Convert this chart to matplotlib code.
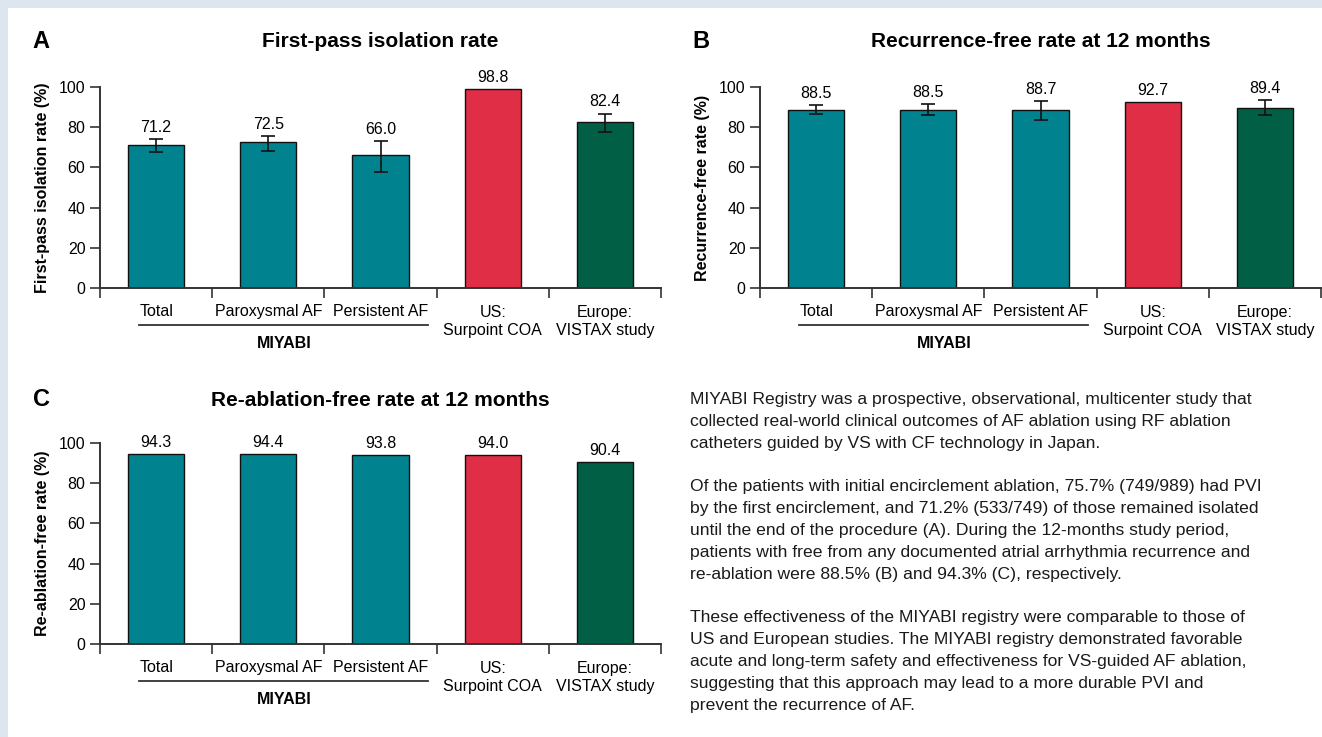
import matplotlib.pyplot as plt
from matplotlib.patches import Rectangle

plt.rcParams['font.family'] = ['Liberation Sans', 'DejaVu Sans']

# ======================== Données ===========================================
categories = ['Total', 'Paroxysmal AF', 'Persistent AF', 'US:\nSurpoint COA', 'Europe:\nVISTAX study']

# A : first-pass isolation
vals_A = [71.2, 72.5, 66.0, 98.8, 82.4]
low_A = [67.9, 68.4, 57.8, None, 77.5]
high_A = [74.0, 75.7, 73.2, None, 86.8]

# B : recurrence-free à 12 mois
vals_B = [88.5, 88.5, 88.7, 92.7, 89.4]
low_B = [86.7, 86.3, 83.8, None, 86.3]
high_B = [90.8, 91.3, 93.2, None, 93.5]

# C : re-ablation-free à 12 mois (pas d'IC)
vals_C = [94.3, 94.4, 93.8, 94.0, 90.4]

yticks = [0, 20, 40, 60, 80, 100]

TEAL = '#00838F'
RED = '#E02E47'
GREEN = '#005F45'
couleurs = [TEAL, TEAL, TEAL, RED, GREEN]

W, H = 1322, 737
fig = plt.figure(figsize=(W / 100, H / 100), dpi=100)
fig.patch.set_facecolor('#DDE6EE')
fig.add_artist(Rectangle((8 / W, 0), 1, 1 - 8 / H, transform=fig.transFigure,
                         facecolor='white', edgecolor='none', zorder=0))


def px_axes(x0, x1, y0, y100):
    # positions en pixels (origine en haut à gauche)
    return fig.add_axes([x0 / W, (H - y0) / H, (x1 - x0) / W, (y0 - y100) / H])


def panel(ax, vals, low, high, titre, ylabel, lettre, lettre_xy, title_pad):
    x = range(len(vals))
    ax.bar(x, vals, width=0.5, color=couleurs, edgecolor='#111111', linewidth=1.0, zorder=2)
    for i, v in enumerate(vals):
        top = v
        if low is not None and low[i] is not None:
            ax.errorbar(i, v, yerr=[[v - low[i]], [high[i] - v]], fmt='none', ecolor='#111111',
                        elinewidth=1.2, capsize=5, capthick=1.2, zorder=3)
            top = high[i]
        ax.annotate(f'{v:.1f}', (i, top), xytext=(0, 3), textcoords='offset points',
                    ha='center', va='bottom', fontsize=11.5)
    ax.set_xlim(-0.5, 4.5)
    ax.set_ylim(0, 100)
    ax.set_yticks(yticks)
    ax.set_xticks([-0.5, 0.5, 1.5, 2.5, 3.5, 4.5])
    ax.set_xticklabels([])
    ax.tick_params(axis='both', direction='out', length=7, width=1.2, color='#333333',
                   labelsize=11.5)
    for s in ['top', 'right']:
        ax.spines[s].set_visible(False)
    for s in ['left', 'bottom']:
        ax.spines[s].set_color('#333333')
        ax.spines[s].set_linewidth(1.4)
    ax.set_ylabel(ylabel, fontsize=11.5, fontweight='bold', labelpad=6)
    ax.set_title(titre, fontsize=15, fontweight='bold', pad=title_pad)

    # étiquettes des catégories
    for i, c in enumerate(categories):
        if '\n' in c:
            ax.text(i, -16.5, c, ha='center', va='center', fontsize=11.5, linespacing=1.25,
                    clip_on=False)
        else:
            ax.text(i, -11.5, c, ha='center', va='center', fontsize=11.5, clip_on=False)
    ax.plot([-0.15, 2.42], [-18.5, -18.5], color='#333333', lw=1.3, clip_on=False)
    ax.text(1.14, -27.5, 'MIYABI', ha='center', va='center', fontsize=11.5,
            fontweight='bold', clip_on=False)
    fig.text(lettre_xy[0] / W, 1 - lettre_xy[1] / H, lettre, fontsize=17, fontweight='bold',
             ha='center', va='center')


axA = px_axes(100, 661, 288, 87)
panel(axA, vals_A, low_A, high_A, 'First-pass isolation rate',
      'First-pass isolation rate (%)', 'A', (41, 41), 29)

axB = px_axes(760, 1321, 288, 87)
panel(axB, vals_B, low_B, high_B, 'Recurrence-free rate at 12 months',
      'Recurrence-free rate (%)', 'B', (701, 41), 29)

axC = px_axes(100, 661, 644, 443)
panel(axC, vals_C, None, None, 'Re-ablation-free rate at 12 months',
      'Re-ablation-free rate (%)', 'C', (41, 400), 26.5)

texte = (
    "MIYABI Registry was a prospective, observational, multicenter study that\n"
    "collected real-world clinical outcomes of AF ablation using RF ablation\n"
    "catheters guided by VS with CF technology in Japan.\n"
    "\n"
    "Of the patients with initial encirclement ablation, 75.7% (749/989) had PVI\n"
    "by the first encirclement, and 71.2% (533/749) of those remained isolated\n"
    "until the end of the procedure (A). During the 12-months study period,\n"
    "patients with free from any documented atrial arrhythmia recurrence and\n"
    "re-ablation were 88.5% (B) and 94.3% (C), respectively.\n"
    "\n"
    "These effectiveness of the MIYABI registry were comparable to those of\n"
    "US and European studies. The MIYABI registry demonstrated favorable\n"
    "acute and long-term safety and effectiveness for VS-guided AF ablation,\n"
    "suggesting that this approach may lead to a more durable PVI and\n"
    "prevent the recurrence of AF."
)
fig.text(690 / W, 1 - 392 / H, texte, ha='left', va='top', fontsize=12.6, linespacing=1.57,
         color='#1a1a1a')

fig.savefig('out.png', dpi=100, facecolor=fig.get_facecolor())
